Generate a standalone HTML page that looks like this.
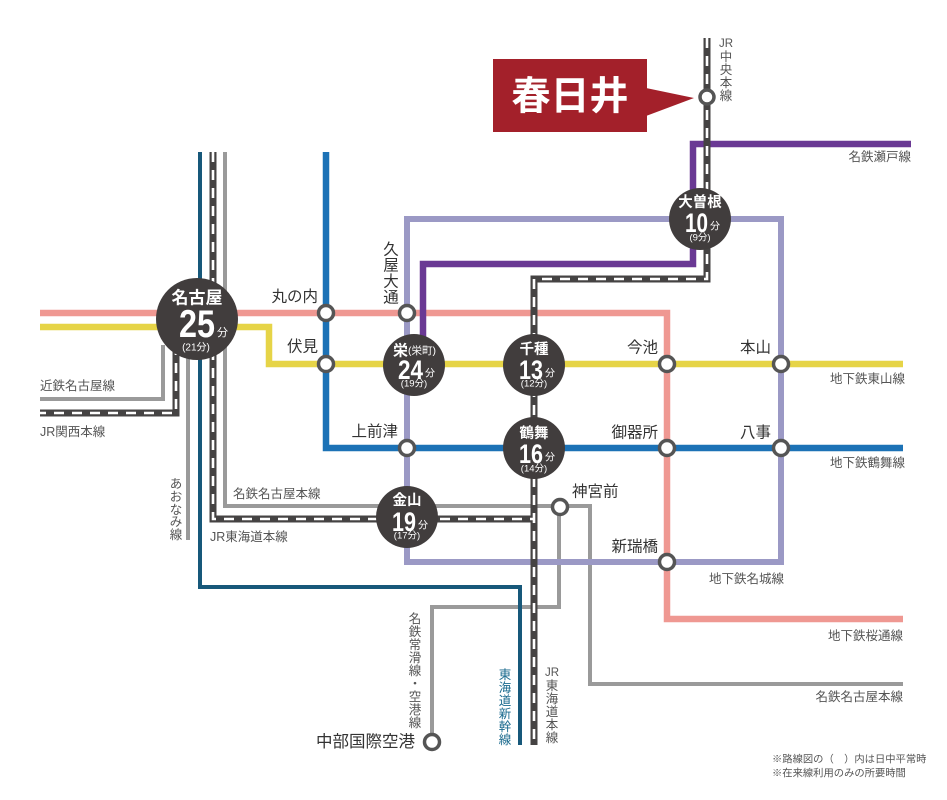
<!DOCTYPE html>
<html><head><meta charset="utf-8">
<style>
html,body{margin:0;padding:0;background:#fff;}
svg{display:block;}
text{font-family:"Liberation Sans","Noto Sans CJK JP",sans-serif;}
.st{font-size:15.5px;fill:#333;}
.ln{font-size:12.5px;fill:#555;}
.w{fill:#fff;font-weight:bold;}
</style></head>
<body>
<svg width="947" height="800" viewBox="0 0 947 800" xmlns="http://www.w3.org/2000/svg">
<rect width="947" height="800" fill="#fff"/>
<g fill="none" stroke-linejoin="miter" stroke-linecap="butt">
<!-- gray lines -->
<path d="M225 152 V506 H590 V684 H903" stroke="#9a9a9a" stroke-width="4"/>
<path d="M163 345 V399 H40" stroke="#9a9a9a" stroke-width="4"/>
<path d="M188 345 V540" stroke="#9a9a9a" stroke-width="4"/>
<path d="M559 506 V607 H432 V742" stroke="#9a9a9a" stroke-width="4"/>
<!-- teal shinkansen -->
<path d="M200 152 V587 H520 V745" stroke="#17587a" stroke-width="4"/>
<!-- Meijo -->
<path d="M407 219 H781 V562 H407 Z" stroke="#9b99c5" stroke-width="6"/>
<!-- pink sakura-dori -->
<path d="M40 313 H667 V619 H903" stroke="#ef9892" stroke-width="6.5"/>
<!-- yellow higashiyama -->
<path d="M40 327 H269 V364 H903" stroke="#e6d447" stroke-width="6.5"/>
<!-- blue tsurumai -->
<path d="M326 152 V448 H903" stroke="#1c72b6" stroke-width="6.5"/>
<!-- seto purple -->
<path d="M423 340 V264 H693 V144 H911" stroke="#6a3994" stroke-width="6.5"/>
<!-- JR dashed lines -->
<g stroke="#454343" stroke-width="7">
<path d="M707 38 V279 H534 V745"/>
<path d="M213 152 V519 H534"/>
<path d="M176 345 V413 H40"/>
</g>
<g stroke="#fff" stroke-width="2.6" stroke-dasharray="10 8">
<path d="M707 38 V279 H534 V745"/>
<path d="M213 152 V519 H534"/>
<path d="M176 345 V413 H40"/>
</g>
</g>

<!-- small station circles -->
<g fill="#fff" stroke="#555" stroke-width="3.5">
<circle cx="326" cy="313" r="7.5"/>
<circle cx="326" cy="364" r="7.5"/>
<circle cx="407" cy="313" r="7.5"/>
<circle cx="407" cy="448" r="7.5"/>
<circle cx="667" cy="364" r="7.5"/>
<circle cx="781" cy="364" r="7.5"/>
<circle cx="667" cy="448" r="7.5"/>
<circle cx="781" cy="448" r="7.5"/>
<circle cx="667" cy="562" r="7.5"/>
<circle cx="560" cy="507" r="7.5"/>
<circle cx="432" cy="742" r="7.5"/>
<circle cx="707" cy="97" r="7"/>
</g>

<!-- big circles -->
<g fill="#413d3d">
<circle cx="197" cy="319" r="41"/>
<circle cx="414" cy="365" r="31"/>
<circle cx="534" cy="365" r="31"/>
<circle cx="534" cy="448" r="31"/>
<circle cx="407" cy="517" r="31"/>
<circle cx="700" cy="219" r="31"/>
</g>

<!-- Nagoya -->
<text class="w" x="197" y="298" font-size="17" text-anchor="middle" dominant-baseline="central">名古屋</text>
<text class="w" x="179" y="337" font-size="39" textLength="36" lengthAdjust="spacingAndGlyphs">25</text>
<text class="w" x="217" y="333" font-size="11" dominant-baseline="central" style="font-weight:normal">分</text>
<text class="w" x="196" y="348" font-size="10" text-anchor="middle" dominant-baseline="central" style="font-weight:normal">(21分)</text>

<!-- Sakae -->
<text class="w" x="393" y="351" font-size="15" dominant-baseline="central">栄<tspan font-size="10.5" font-weight="normal">(栄町)</tspan></text>
<text class="w" x="398" y="379" font-size="27" textLength="25" lengthAdjust="spacingAndGlyphs">24</text>
<text class="w" x="425" y="374" font-size="10" dominant-baseline="central" style="font-weight:normal">分</text>
<text class="w" x="414" y="384" font-size="9.5" text-anchor="middle" dominant-baseline="central" style="font-weight:normal">(19分)</text>

<!-- Chikusa -->
<text class="w" x="534" y="350" font-size="14.5" text-anchor="middle" dominant-baseline="central">千種</text>
<text class="w" x="519" y="379" font-size="27" textLength="24" lengthAdjust="spacingAndGlyphs">13</text>
<text class="w" x="545" y="374" font-size="10" dominant-baseline="central" style="font-weight:normal">分</text>
<text class="w" x="534" y="384" font-size="9.5" text-anchor="middle" dominant-baseline="central" style="font-weight:normal">(12分)</text>

<!-- Tsurumai -->
<text class="w" x="534" y="434" font-size="14.5" text-anchor="middle" dominant-baseline="central">鶴舞</text>
<text class="w" x="519" y="463" font-size="27" textLength="24" lengthAdjust="spacingAndGlyphs">16</text>
<text class="w" x="545" y="458" font-size="10" dominant-baseline="central" style="font-weight:normal">分</text>
<text class="w" x="534" y="469" font-size="9.5" text-anchor="middle" dominant-baseline="central" style="font-weight:normal">(14分)</text>

<!-- Kanayama -->
<text class="w" x="407" y="501" font-size="14.5" text-anchor="middle" dominant-baseline="central">金山</text>
<text class="w" x="392" y="531" font-size="27" textLength="24" lengthAdjust="spacingAndGlyphs">19</text>
<text class="w" x="418" y="526" font-size="10" dominant-baseline="central" style="font-weight:normal">分</text>
<text class="w" x="407" y="536" font-size="9.5" text-anchor="middle" dominant-baseline="central" style="font-weight:normal">(17分)</text>

<!-- Ozone -->
<text class="w" x="700" y="203" font-size="14.5" text-anchor="middle" dominant-baseline="central">大曽根</text>
<text class="w" x="685" y="232" font-size="27" textLength="23" lengthAdjust="spacingAndGlyphs">10</text>
<text class="w" x="710" y="227" font-size="10" dominant-baseline="central" style="font-weight:normal">分</text>
<text class="w" x="700" y="238" font-size="9.5" text-anchor="middle" dominant-baseline="central" style="font-weight:normal">(9分)</text>

<!-- Kasugai callout -->
<rect x="493" y="59" width="154" height="73" fill="#a3202a"/>
<polygon points="646,88 694,98 646,116" fill="#a3202a"/>
<text x="570" y="97" font-size="39" font-weight="bold" fill="#fff" text-anchor="middle" dominant-baseline="central">春日井</text>

<!-- station labels -->
<g class="st" dominant-baseline="central">
<text x="318" y="297" text-anchor="end">丸の内</text>
<text x="318" y="347" text-anchor="end">伏見</text>
<text x="398" y="432" text-anchor="end">上前津</text>
<text x="658" y="348" text-anchor="end">今池</text>
<text x="771" y="348" text-anchor="end">本山</text>
<text x="658" y="433" text-anchor="end">御器所</text>
<text x="771" y="433" text-anchor="end">八事</text>
<text x="658" y="547" text-anchor="end">新瑞橋</text>
<text x="572" y="492">神宮前</text>
<text x="415" y="742" text-anchor="end" font-size="16.5">中部国際空港</text>
</g>
<!-- 久屋大通 vertical -->
<g class="st" text-anchor="middle" dominant-baseline="central">
<text x="391" y="250">久</text>
<text x="391" y="266">屋</text>
<text x="391" y="282">大</text>
<text x="391" y="298">通</text>
</g>

<!-- line labels -->
<g class="ln" dominant-baseline="central">
<text x="911" y="157" text-anchor="end">名鉄瀬戸線</text>
<text x="905" y="379" text-anchor="end">地下鉄東山線</text>
<text x="905" y="463" text-anchor="end">地下鉄鶴舞線</text>
<text x="784" y="579" text-anchor="end">地下鉄名城線</text>
<text x="903" y="636" text-anchor="end">地下鉄桜通線</text>
<text x="903" y="697" text-anchor="end">名鉄名古屋本線</text>
<text x="40" y="386">近鉄名古屋線</text>
<text x="40" y="432">JR関西本線</text>
<text x="233" y="494">名鉄名古屋本線</text>
<text x="210" y="537">JR東海道本線</text>
</g>

<!-- vertical line labels -->
<g class="ln" text-anchor="middle" dominant-baseline="central">
<!-- JR中央本線 -->
<text x="726" y="44" font-size="11.5">JR</text>
<text x="726" y="57">中</text>
<text x="726" y="70">央</text>
<text x="726" y="83">本</text>
<text x="726" y="96">線</text>
<!-- あおなみ線 -->
<text x="176" y="484">あ</text>
<text x="176" y="497">お</text>
<text x="176" y="510">な</text>
<text x="176" y="522">み</text>
<text x="176" y="535">線</text>
<!-- 名鉄常滑線・空港線 -->
<text x="415" y="619">名</text>
<text x="415" y="632">鉄</text>
<text x="415" y="645">常</text>
<text x="415" y="658">滑</text>
<text x="415" y="671">線</text>
<text x="415" y="684">・</text>
<text x="415" y="697">空</text>
<text x="415" y="710">港</text>
<text x="415" y="723">線</text>
<!-- JR東海道本線 -->
<text x="552" y="673" font-size="11.5">JR</text>
<text x="552" y="686">東</text>
<text x="552" y="699">海</text>
<text x="552" y="712">道</text>
<text x="552" y="725">本</text>
<text x="552" y="738">線</text>
</g>
<g text-anchor="middle" dominant-baseline="central" font-size="12.5" fill="#1a6a8e">
<text x="505" y="675">東</text>
<text x="505" y="688">海</text>
<text x="505" y="701">道</text>
<text x="505" y="714">新</text>
<text x="505" y="727">幹</text>
<text x="505" y="740">線</text>
</g>

<!-- notes -->
<g font-size="10.3" fill="#555" dominant-baseline="central">
<text x="772" y="760">※路線図の（　）内は日中平常時</text>
<text x="772" y="774">※在来線利用のみの所要時間</text>
</g>
</svg>
</body></html>
